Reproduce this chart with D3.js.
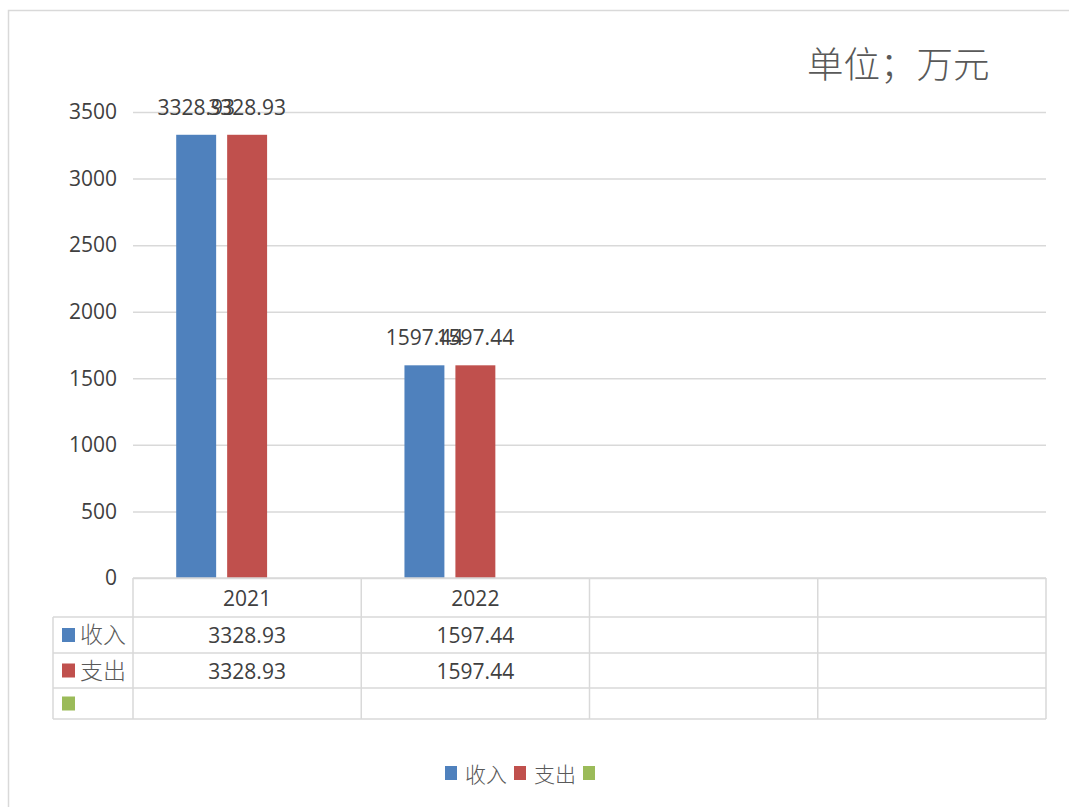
<!DOCTYPE html>
<meta charset="utf-8">
<style>
  body { margin: 0; background: #fff; }
  text { font-family: "Open Sans", "Noto Sans", sans-serif; fill: #404040; }
  .cjk { font-family: "Noto Sans CJK SC", sans-serif; fill: #595959; font-weight: 300; }
</style>
<svg width="1069" height="807"></svg>
<script src="https://d3js.org/d3.v7.min.js"></script>
<script>

// data
var categories = ["2021", "2022", "", ""];
var seriesNames = ["收入", "支出", ""];
var income = [3328.93, 1597.44, null, null];
var expense = [3328.93, 1597.44, null, null];
var third = [null, null, null, null];
var colors = ["#4f81bd", "#c0504d", "#9bbb59"];
var yTicks = [0, 500, 1000, 1500, 2000, 2500, 3000, 3500];

var series = [income, expense, third];

var svg = d3.select("svg"),
    plot = {left: 133, right: 1046, top: 112, bottom: 578},
    grid = "#d9d9d9";

// outer frame (only left and top visible)
svg.append("rect")
    .attr("x", 8.5).attr("y", 10.5)
    .attr("width", 1100).attr("height", 900)
    .attr("fill", "none").attr("stroke", grid).attr("stroke-width", 1.5);

var x = d3.scaleBand()
    .domain(d3.range(categories.length))
    .range([plot.left, plot.right]);

var xs = d3.scaleBand()
    .domain(d3.range(seriesNames.length))
    .range([0, x.bandwidth()])
    .paddingInner(0.216)
    .paddingOuter(0.848);

var y = d3.scaleLinear()
    .domain([0, 3500])
    .range([plot.bottom, plot.top]);

// gridlines + y labels
var yAxis = svg.append("g")
    .attr("transform", "translate(" + plot.left + ",0)")
    .call(d3.axisLeft(y).tickValues(yTicks).tickFormat(d3.format("d"))
      .tickSize(-(plot.right - plot.left)).tickPadding(16));
yAxis.select(".domain").remove();
yAxis.selectAll("line").attr("stroke", grid).attr("stroke-width", 1.5);
yAxis.selectAll("text")
    .attr("font-size", 21)
    .attr("fill", "#404040")
    .style("font-family", "'Open Sans', sans-serif");

// bars
series.forEach(function(vals, si) {
  var g = svg.append("g");
  vals.forEach(function(v, ci) {
    if (v == null) return;
    g.append("rect")
        .attr("x", x(ci) + xs(si))
        .attr("y", y(v))
        .attr("width", xs.bandwidth())
        .attr("height", y(0) - y(v))
        .attr("fill", colors[si]);
    g.append("text")
        .attr("x", x(ci) + xs(si) + xs.bandwidth() / 2)
        .attr("y", y(v) - 20)
        .attr("text-anchor", "middle")
        .attr("font-size", 21)
        .text(v.toFixed(2));
  });
});

// data table under the plot
var rows = [plot.bottom, 617, 653, 688, 719],
    leftCol = 53;

var t = svg.append("g").attr("stroke", grid).attr("stroke-width", 1.5).attr("fill", "none");
// header row top line
t.append("line").attr("x1", plot.left).attr("x2", plot.right).attr("y1", rows[0]).attr("y2", rows[0]);
rows.slice(1).forEach(function(r) {
  t.append("line").attr("x1", leftCol).attr("x2", plot.right).attr("y1", r).attr("y2", r);
});
t.append("line").attr("x1", leftCol).attr("x2", leftCol).attr("y1", rows[1]).attr("y2", rows[4]);
d3.range(categories.length + 1).forEach(function(i) {
  var xx = i < categories.length ? x(i) : plot.right;
  t.append("line").attr("x1", xx).attr("x2", xx).attr("y1", rows[0]).attr("y2", rows[4]);
});

categories.forEach(function(c, ci) {
  svg.append("text")
      .attr("x", x(ci) + x.bandwidth() / 2)
      .attr("y", (rows[0] + rows[1]) / 2 + 8)
      .attr("text-anchor", "middle")
      .attr("font-size", 21)
      .text(c);
});

series.forEach(function(vals, si) {
  var cy = (rows[si + 1] + rows[si + 2]) / 2;
  svg.append("rect")
      .attr("x", 62).attr("y", cy - 7)
      .attr("width", 13).attr("height", 14)
      .attr("fill", colors[si]);
  svg.append("text")
      .attr("class", "cjk")
      .attr("x", 80).attr("y", cy + 8)
      .attr("font-size", 23)
      .text(seriesNames[si]);
  vals.forEach(function(v, ci) {
    if (v == null) return;
    svg.append("text")
        .attr("x", x(ci) + x.bandwidth() / 2)
        .attr("y", cy + 8)
        .attr("text-anchor", "middle")
        .attr("font-size", 21)
        .text(v.toFixed(2));
  });
});

// legend
var lx = 445;
seriesNames.forEach(function(name, si) {
  svg.append("rect")
      .attr("x", lx).attr("y", 766)
      .attr("width", 12).attr("height", 14)
      .attr("fill", colors[si]);
  lx += 20;
  if (name) {
    var tx = svg.append("text")
        .attr("class", "cjk")
        .attr("x", lx).attr("y", 782)
        .attr("font-size", 21)
        .text(name);
    lx += tx.node().getComputedTextLength() + 7;
  }
});

// unit note
svg.append("text")
    .attr("class", "cjk")
    .attr("x", 807).attr("y", 78)
    .attr("font-size", 36.5)
    .text("单位；万元");

</script>
